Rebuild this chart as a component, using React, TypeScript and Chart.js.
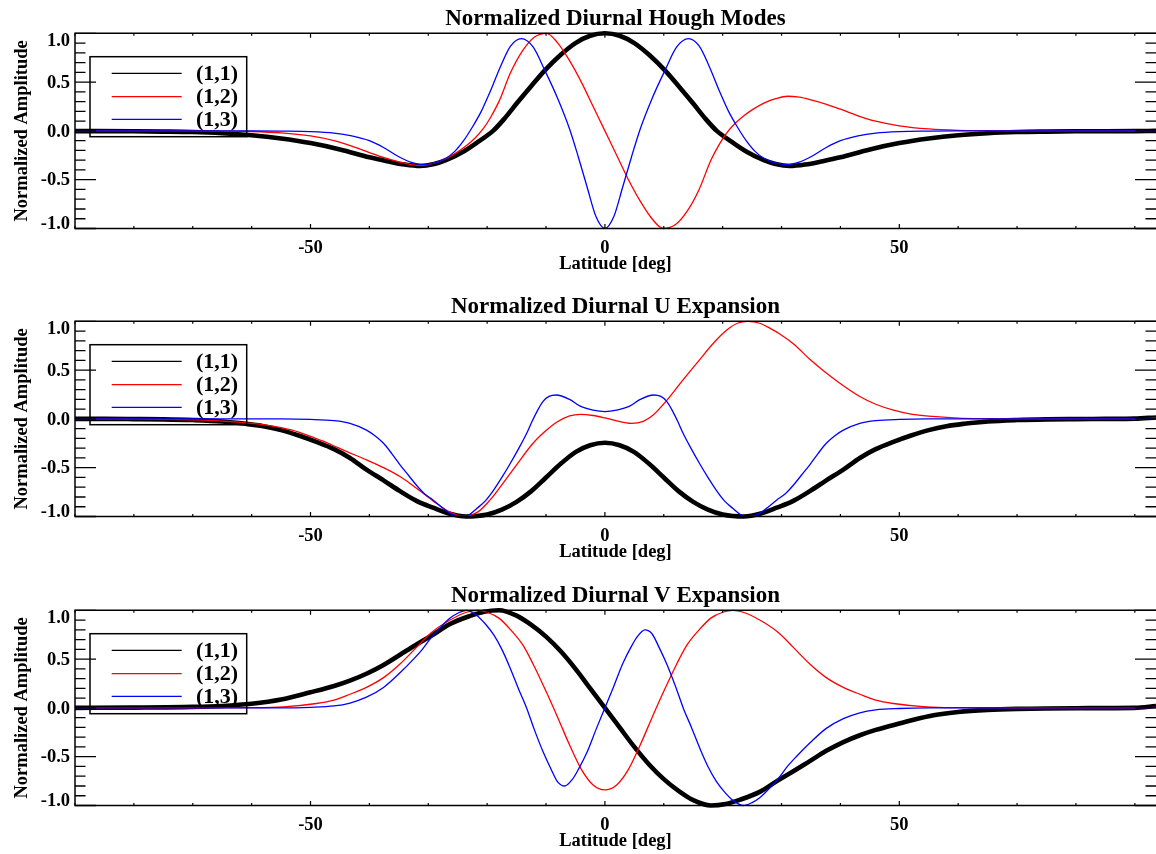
import React, { useEffect, useRef } from "react";
import { Chart, registerables } from "chart.js";

Chart.register(...registerables);

// ---------- text ----------
const panelTitles = [
  "Normalized Diurnal Hough Modes",
  "Normalized Diurnal U Expansion",
  "Normalized Diurnal V Expansion",
];
const xAxisTitle = "Latitude [deg]";
const yAxisTitle = "Normalized Amplitude";
const seriesNames = ["(1,1)", "(1,2)", "(1,3)"];
const seriesColors = ["#000000", "#ff0000", "#0000ff"];

// ---------- axes ----------
const xMin = -90;
const xMax = 93.6;
const yMin = -1;
const yMax = 1;
const xTickValues = [-50, 0, 50];
const xTickLabels = ["-50", "0", "50"];
const yTickValues = [1, 0.5, 0, -0.5, -1];
const yTickLabels = ["1.0", "0.5", "0.0", "-0.5", "-1.0"];

// ---------- panel 1 : Hough modes ----------
const houghLat11 = [-90,-80,-75,-70,-65,-60,-55,-50,-45,-40,-37,-34,-31.4,-29,-27,-24,-21.5,-19,-17,-15,-12.5,-10.2,-7.5,-5,-2.5,0,2.5,5,7.5,10.2,12.5,15,17,19,21.5,24,27,29,31.4,34,37,40,45,50,55,60,65,70,75,80,90,93.6];
const hough11 = [-0.002,-0.004,-0.007,-0.012,-0.024,-0.045,-0.078,-0.125,-0.19,-0.27,-0.31,-0.345,-0.36,-0.34,-0.3,-0.21,-0.11,0,0.13,0.28,0.46,0.62,0.78,0.9,0.975,1,0.975,0.9,0.78,0.62,0.46,0.28,0.13,0,-0.11,-0.21,-0.3,-0.34,-0.36,-0.345,-0.31,-0.27,-0.19,-0.125,-0.078,-0.045,-0.024,-0.012,-0.007,-0.004,-0.002,0];

const houghLat12 = [-90,-70,-65,-60,-55,-50,-46,-43,-40,-37.5,-35,-33,-31,-29,-27,-25,-23.5,-22,-20.7,-19.5,-18,-16,-14,-12,-9.9,-8,-6,-4,-2,0,2,4,6,8,9.9,12,14,16,18,19.5,20.7,22,23.5,25,27,29,31,33,35,37.5,40,43,46,50,55,60,65,70,90,93.6];
const hough12 = [0,0,-0.002,-0.006,-0.02,-0.052,-0.1,-0.155,-0.222,-0.275,-0.318,-0.345,-0.355,-0.33,-0.285,-0.215,-0.15,-0.07,0.02,0.13,0.3,0.6,0.82,0.96,1,0.9,0.72,0.5,0.25,0,-0.25,-0.5,-0.72,-0.9,-1,-0.96,-0.82,-0.6,-0.3,-0.13,-0.02,0.07,0.15,0.215,0.285,0.33,0.355,0.345,0.318,0.275,0.222,0.155,0.1,0.052,0.02,0.006,0.002,0,0,0];

const houghLat13 = [-90,-60,-55,-50,-46,-43,-40,-37.6,-35,-33,-31,-29,-27,-25.5,-24,-22.5,-21,-19.5,-17.8,-16,-14.2,-12.2,-10.2,-8,-6,-4.5,-3,-1.5,0,1.5,3,4.5,6,8,10.2,12.2,14.2,16,17.8,19.5,21,22.5,24,25.5,27,29,31,33,35,37.6,40,43,46,50,55,60,90,93.6];
const hough13 = [0,0,-0.002,-0.007,-0.022,-0.05,-0.1,-0.17,-0.265,-0.32,-0.345,-0.33,-0.28,-0.21,-0.1,0.04,0.2,0.4,0.65,0.87,0.945,0.86,0.62,0.33,0.02,-0.27,-0.58,-0.88,-1,-0.88,-0.58,-0.27,0.02,0.33,0.62,0.86,0.945,0.87,0.65,0.4,0.2,0.04,-0.1,-0.21,-0.28,-0.33,-0.345,-0.32,-0.265,-0.17,-0.1,-0.05,-0.022,-0.007,-0.002,0,0,0];

// ---------- panel 2 : U expansion ----------
const uLat11 = [-90,-85,-80,-75,-70,-65,-61,-58,-55,-52,-49,-46,-43.3,-40.5,-37.6,-34.8,-32,-29.2,-26.5,-23.6,-20,-17.5,-15,-12.5,-10,-7.5,-5,-2.5,0,2.5,5,7.5,10,12.5,15,17.5,20,23.6,26.5,29.2,32,34.8,37.6,40.5,43.3,46,49,52,55,58,61,65,70,75,80,85,90,93.6];
const u11 = [0,0,-0.002,-0.005,-0.012,-0.026,-0.05,-0.075,-0.115,-0.17,-0.235,-0.31,-0.4,-0.52,-0.63,-0.74,-0.84,-0.91,-0.97,-1,-0.98,-0.93,-0.85,-0.74,-0.6,-0.46,-0.34,-0.27,-0.245,-0.27,-0.34,-0.46,-0.6,-0.74,-0.85,-0.93,-0.98,-1,-0.97,-0.91,-0.84,-0.74,-0.63,-0.52,-0.4,-0.31,-0.235,-0.17,-0.115,-0.075,-0.05,-0.026,-0.012,-0.005,-0.002,0,0.003,0.015];

const uLat12 = [-90,-80,-70,-65,-60,-57.5,-55,-52,-50,-47,-44,-40.5,-37.6,-34.8,-32,-29.2,-26.5,-24,-21.5,-19.5,-17.8,-15,-12.2,-10,-8.2,-6,-4.2,-2,0,2,4.5,6.5,8.2,10.5,13,16,18.5,20.7,22.5,24.3,26.3,28,29.7,32,35,37.6,40.5,43.3,46,49,52,55,60,65,70,90,93.6];
const u12 = [0,-0.002,-0.01,-0.022,-0.045,-0.063,-0.09,-0.135,-0.18,-0.25,-0.33,-0.42,-0.5,-0.59,-0.71,-0.84,-0.95,-1,-0.95,-0.83,-0.7,-0.47,-0.25,-0.12,-0.035,0.03,0.047,0.035,0.01,-0.02,-0.045,-0.025,0.04,0.19,0.38,0.6,0.78,0.91,0.98,1,0.98,0.93,0.87,0.77,0.6,0.47,0.34,0.23,0.15,0.09,0.05,0.028,0.008,0.002,0,0,0.01];

const uLat13 = [-90,-55,-50,-46,-43.3,-40.5,-39,-37.6,-36.2,-34.8,-33.4,-32,-30.6,-29.2,-27.8,-26.5,-25.3,-24,-23,-21.8,-20.3,-18.9,-17.5,-16.1,-14.7,-13.3,-12.4,-11.5,-10.5,-9.5,-8.3,-6,-4.2,-2,0,2,4.2,6,8.3,9.5,10.5,11.5,12.4,13.3,14.7,16.1,17.5,18.9,20.3,21.8,23,24,25.3,26.5,27.8,29.2,30.6,32,33.4,34.8,36.2,37.6,39,40.5,43.3,46,50,55,90,93.6];
const u13 = [0,0,-0.005,-0.018,-0.046,-0.115,-0.175,-0.25,-0.355,-0.47,-0.575,-0.68,-0.77,-0.83,-0.9,-0.96,-0.99,-1,-0.98,-0.92,-0.84,-0.73,-0.6,-0.46,-0.31,-0.15,-0.03,0.08,0.18,0.23,0.245,0.2,0.13,0.09,0.075,0.09,0.13,0.2,0.245,0.23,0.18,0.08,-0.03,-0.15,-0.31,-0.46,-0.6,-0.73,-0.84,-0.92,-0.98,-1,-0.99,-0.96,-0.9,-0.83,-0.77,-0.68,-0.575,-0.47,-0.355,-0.25,-0.175,-0.115,-0.046,-0.018,-0.005,0,0,0.01];

// ---------- panel 3 : V expansion ----------
const vLat11 = [-90,-80,-70,-65,-60,-55,-50,-46,-43.3,-40.5,-37.6,-34.8,-32,-29.2,-26.3,-23,-20.5,-18,-15,-12.5,-10,-7.5,-5,-2.5,0,2.5,5,7.5,10,12.5,15,18,20.5,23,26.3,29.2,32,34.8,37.6,40.5,43.3,46,50,55,60,65,70,80,90,93.6];
const v11 = [0,0.003,0.01,0.02,0.042,0.085,0.16,0.225,0.28,0.35,0.44,0.545,0.65,0.75,0.86,0.94,0.985,1,0.945,0.85,0.73,0.58,0.4,0.2,0,-0.2,-0.4,-0.58,-0.73,-0.85,-0.945,-1,-0.985,-0.94,-0.86,-0.75,-0.65,-0.545,-0.44,-0.35,-0.28,-0.225,-0.16,-0.085,-0.042,-0.02,-0.01,-0.003,0,0.02];

const vLat12 = [-90,-70,-60,-54.6,-49,-46,-43.3,-40.5,-37.6,-34.8,-32,-29.5,-26.3,-23.5,-21.7,-20,-18,-16,-14,-12.2,-10,-8,-6,-4,-2,0,2,4,6,8,10,12.2,14,16,18,20,21.7,23.5,26.3,29.5,32,34.8,37.6,40.5,43.3,46,49,54.6,60,70,90,93.6];
const v12 = [0,0,0.002,0.01,0.045,0.08,0.14,0.21,0.31,0.45,0.62,0.77,0.9,0.98,1,0.98,0.92,0.8,0.65,0.45,0.17,-0.1,-0.38,-0.63,-0.79,-0.84,-0.79,-0.63,-0.38,-0.1,0.17,0.45,0.65,0.8,0.92,0.98,1,0.98,0.9,0.77,0.62,0.45,0.31,0.21,0.14,0.08,0.045,0.01,0.002,0,0,0.005];

const vLat13 = [-90,-55,-50,-46,-43.3,-40.5,-37.6,-34.8,-32.5,-31,-29.5,-28,-26.3,-25,-23.5,-21.8,-20.3,-18.9,-17.5,-16.1,-14.7,-13.3,-12,-10.5,-9.2,-8,-6.8,-5.5,-4.5,-3,-1.5,0,1.5,3,4.5,5.5,6.8,8,9.2,10.5,12,13.3,14.7,16.1,17.5,18.9,20.3,21.8,23.5,25,26.3,28,29.5,31,32.5,34.8,37.6,40.5,43.3,46,50,55,90,93.6];
const v13 = [0,0,0.006,0.02,0.05,0.11,0.21,0.36,0.5,0.6,0.72,0.82,0.92,0.97,1,0.95,0.86,0.75,0.6,0.41,0.2,0,-0.22,-0.45,-0.62,-0.76,-0.8,-0.73,-0.63,-0.45,-0.22,0,0.22,0.45,0.63,0.73,0.8,0.76,0.62,0.45,0.22,0,-0.2,-0.41,-0.6,-0.75,-0.86,-0.95,-1,-0.97,-0.92,-0.82,-0.72,-0.6,-0.5,-0.36,-0.21,-0.11,-0.05,-0.02,-0.006,0,0,0.005];

const panelSeries = [
  [[houghLat11, hough11], [houghLat12, hough12], [houghLat13, hough13]],
  [[uLat11, u11], [uLat12, u12], [uLat13, u13]],
  [[vLat11, v11], [vLat12, v12], [vLat13, v13]],
];

// ---------- layout ----------
const W = 1156;
const canvasTops = [0, 288, 577];
const canvasHeights = [288, 289, 277];
const PLOT_LEFT = 75;
const PLOT_TOP = 33.3;
const PLOT_BOTTOM = 228.5;
const FONT = "'Liberation Serif', 'Times New Roman', Times, serif";

function decorPlugin(title: string) {
  return {
    id: "idlDecor",
    afterDraw(chart: any) {
      const ctx: CanvasRenderingContext2D = chart.ctx;
      const { left, top, right, bottom } = chart.chartArea;
      const xs = chart.scales.x;
      const ys = chart.scales.y;
      ctx.save();
      ctx.strokeStyle = "#000";
      ctx.fillStyle = "#000";
      ctx.lineWidth = 1.5;
      ctx.lineCap = "butt";
      // frame (left, top, bottom)
      ctx.beginPath();
      ctx.moveTo(right + 2, top);
      ctx.lineTo(left, top);
      ctx.lineTo(left, bottom);
      ctx.lineTo(right + 2, bottom);
      ctx.stroke();

      // x ticks (major every 50, minor every 10)
      ctx.lineWidth = 1.2;
      for (let v = -90; v <= xMax; v += 10) {
        const px = xs.getPixelForValue(v);
        const len = v % 50 === 0 ? 4.5 : 2.5;
        ctx.beginPath();
        ctx.moveTo(px, bottom);
        ctx.lineTo(px, bottom - len);
        ctx.moveTo(px, top);
        ctx.lineTo(px, top + len);
        ctx.stroke();
      }
      // y ticks (major every 0.5, minor every 0.1)
      ctx.lineWidth = 1.3;
      for (let i = -10; i <= 10; i++) {
        const py = ys.getPixelForValue(i / 10);
        const len = i % 5 === 0 ? 21 : 10.5;
        ctx.beginPath();
        ctx.moveTo(left, py);
        ctx.lineTo(left + len, py);
        ctx.moveTo(W, py);
        ctx.lineTo(W - len, py);
        ctx.stroke();
      }

      // y tick labels
      ctx.font = `bold 18.5px ${FONT}`;
      ctx.textAlign = "right";
      yTickValues.forEach((v, i) => {
        const py = ys.getPixelForValue(v);
        if (v === yMax) {
          ctx.textBaseline = "top";
          ctx.fillText(yTickLabels[i], 70, py - 1);
        } else if (v === yMin) {
          ctx.textBaseline = "alphabetic";
          ctx.fillText(yTickLabels[i], 70, py);
        } else {
          ctx.textBaseline = "middle";
          ctx.fillText(yTickLabels[i], 70, py + 1);
        }
      });
      // x tick labels
      ctx.textAlign = "center";
      ctx.textBaseline = "alphabetic";
      xTickValues.forEach((v, i) => {
        ctx.fillText(xTickLabels[i], xs.getPixelForValue(v), 253);
      });
      // x title
      ctx.fillText(xAxisTitle, (left + W) / 2, 269);
      // y title
      ctx.save();
      ctx.translate(26.5, (top + bottom) / 2);
      ctx.rotate(-Math.PI / 2);
      ctx.textAlign = "center";
      ctx.fillText(yAxisTitle, 0, 0);
      ctx.restore();
      // title
      ctx.font = `bold 23px ${FONT}`;
      ctx.textAlign = "center";
      ctx.fillText(title, (left + W) / 2, 25);

      // legend
      const bx = 90, by = top + 23.4, bw = 156.7, bh = 80;
      ctx.lineWidth = 1.5;
      ctx.strokeRect(bx, by, bw, bh);
      const rows = [40, 63.4, 86];
      ctx.font = `bold 22px ${FONT}`;
      ctx.textAlign = "left";
      ctx.textBaseline = "middle";
      seriesNames.forEach((name, i) => {
        const y = top + rows[i];
        ctx.strokeStyle = seriesColors[i];
        ctx.lineWidth = 1.3;
        ctx.beginPath();
        ctx.moveTo(111.7, y);
        ctx.lineTo(181.7, y);
        ctx.stroke();
        ctx.fillStyle = "#000";
        ctx.fillText(name, 196, y + 1);
      });
      ctx.restore();
    },
  };
}

function Panel({ index }: { index: number }) {
  const ref = useRef<HTMLCanvasElement | null>(null);
  useEffect(() => {
    const canvas = ref.current;
    if (!canvas) return;
    const h = canvasHeights[index];
    const series = panelSeries[index];
    const chart = new Chart(canvas, {
      type: "line",
      data: {
        datasets: series.map(([lats, vals], i) => ({
          label: seriesNames[i],
          data: lats.map((x: number, j: number) => ({ x, y: vals[j] })),
          borderColor: seriesColors[i],
          backgroundColor: seriesColors[i],
          borderWidth: i === 0 ? 4.6 : 1.3,
          borderJoinStyle: "round",
          pointRadius: 0,
          fill: false,
          cubicInterpolationMode: "monotone",
          order: 3 - i,
          clip: false,
        })),
      },
      options: {
        responsive: false,
        animation: false,
        devicePixelRatio: 1,
        events: [],
        layout: {
          padding: { left: PLOT_LEFT, right: 0, top: PLOT_TOP, bottom: h - PLOT_BOTTOM },
        },
        scales: {
          x: { type: "linear", min: xMin, max: xMax, display: false },
          y: { type: "linear", min: yMin, max: yMax, display: false },
        },
        plugins: {
          legend: { display: false },
          tooltip: { enabled: false },
          title: { display: false },
        },
      } as any,
      plugins: [decorPlugin(panelTitles[index])],
    } as any);
    return () => chart.destroy();
  }, [index]);
  return (
    <canvas
      ref={ref}
      width={W}
      height={canvasHeights[index]}
      style={{ position: "absolute", left: 0, top: canvasTops[index], width: W, height: canvasHeights[index] }}
    />
  );
}

export default function App() {
  return (
    <div style={{ position: "absolute", left: 0, top: 0, width: W, height: 854, overflow: "hidden", background: "#fff" }}>
      {[0, 1, 2].map((i) => (
        <Panel key={i} index={i} />
      ))}
    </div>
  );
}
